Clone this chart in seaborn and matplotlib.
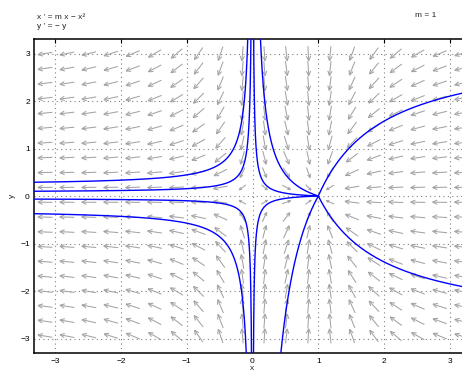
import numpy as np
import matplotlib
matplotlib.use("Agg")
import matplotlib.pyplot as plt
import seaborn as sns
import pandas as pd
from matplotlib.collections import LineCollection

# ---------------- data ----------------
m = 1.0
x_ticks = [-3, -2, -1, 0, 1, 2, 3]
y_ticks = [-3, -2, -1, 0, 1, 2, 3]
x_limits = (-3.32, 3.32)
y_limits = (-3.3, 3.3)
# direction-field sample grid (columns / rows)
grid_x = np.linspace(-3.15, 3.18, 20)
grid_y = np.linspace(-2.95, 3.0, 20)
# drawn trajectories: x = 1/(1 + k*y), constant k and branch
traj_k = [-4.5, -13.0, 3.5, 20.0, 2.2, 17.0, -0.4, -20.0, -0.317, 0.36]
traj_branch = ["left", "left", "left", "left", "mid", "mid", "mid", "mid", "right", "right"]

# ---------------- figure ----------------
sns.set_theme(style="white")
plt.rcParams["font.family"] = ["Liberation Sans", "DejaVu Sans"]
plt.rcParams["axes.unicode_minus"] = True

W, H = 462, 374
fig = plt.figure(figsize=(W / 100, H / 100), dpi=100)
ax_left, ax_right, ax_top, ax_bottom = 34, 471, 39.25, 352.75
ax = fig.add_axes([ax_left / W, 1 - ax_bottom / H, (ax_right - ax_left) / W, (ax_bottom - ax_top) / H])
ax.set_xlim(*x_limits)
ax.set_ylim(*y_limits)

# grid
ax.set_xticks(x_ticks)
ax.set_yticks(y_ticks)
ax.grid(True, linestyle=(0, (1, 3)), color=(0.5, 0.5, 0.5), linewidth=0.8)
ax.set_axisbelow(True)

# direction field
sx = (ax_right - ax_left) / (x_limits[1] - x_limits[0])
sy = (ax_bottom - ax_top) / (y_limits[1] - y_limits[0])
X, Y = np.meshgrid(grid_x, grid_y)
U = m * X - X ** 2
V = -Y
Up, Vp = U * sx, V * sy
S = np.hypot(Up, Vp)
S[S == 0] = 1e-9
f = np.clip(S / 45.0, 0, 1) ** 0.5
L = 14.5 * f
ux, uy = Up / S, Vp / S
segs = []
ang = np.deg2rad(25)
for cx, cy, dx, dy, l in zip(X.ravel(), Y.ravel(), ux.ravel(), uy.ravel(), L.ravel()):
    tx, ty = -0.5 * l * dx, -0.5 * l * dy
    hx, hy = 0.5 * l * dx, 0.5 * l * dy
    segs.append([(cx + tx / sx, cy + ty / sy), (cx + hx / sx, cy + hy / sy)])
    hl = 0.35 * l
    for s in (1, -1):
        ca, sa = np.cos(s * ang), np.sin(s * ang)
        bx = -(dx * ca - dy * sa) * hl
        by = -(dx * sa + dy * ca) * hl
        segs.append([(cx + hx / sx, cy + hy / sy), (cx + (hx + bx) / sx, cy + (hy + by) / sy)])
lc = LineCollection(segs, colors=[(0.64, 0.64, 0.64)], linewidths=0.75, zorder=2)
ax.add_collection(lc)

# trajectories
for k, br in zip(traj_k, traj_branch):
    if br == "left":
        xs = -np.geomspace(1e-5, 3.6, 1500)
    elif br == "mid":
        xs = np.concatenate([np.geomspace(1e-5, 0.2, 1200), np.linspace(0.2, 1.0, 400)[1:]])
    else:
        xs = np.linspace(1.0, 3.6, 400)
    ys = (m / xs - 1.0) / k
    keep = np.abs(ys) <= 4.0
    df = pd.DataFrame({"x": xs[keep], "y": ys[keep]})
    sns.lineplot(data=df, x="x", y="y", sort=False, estimator=None, color="#0000ff",
                 linewidth=1.0, ax=ax, zorder=3)

ax.set_xlim(*x_limits)
ax.set_ylim(*y_limits)

# axes styling
for sp in ax.spines.values():
    sp.set_color("black")
    sp.set_linewidth(1.1)
ax.tick_params(direction="in", length=3, width=0.8, top=True, right=True,
               labelsize=6, colors="black", pad=4)
ax.tick_params(axis="y", pad=3)
ax.set_xlabel("")
ax.set_ylabel("")
fig.text(252 / W, 1 - 369 / H, "x", ha="center", va="center", fontsize=6)
fig.text(12 / W, 1 - 196 / H, "y", ha="center", va="center", fontsize=6, rotation=90)

fig.text(37 / W, 1 - 19 / H, "x ' = m x \u2212 x\u00b2", ha="left", va="baseline", fontsize=6)
fig.text(37 / W, 1 - 28 / H, "y ' = \u2212 y", ha="left", va="baseline", fontsize=6)
fig.text(415 / W, 1 - 17 / H, "m = 1", ha="left", va="baseline", fontsize=6)

fig.savefig("out.png", dpi=100)
